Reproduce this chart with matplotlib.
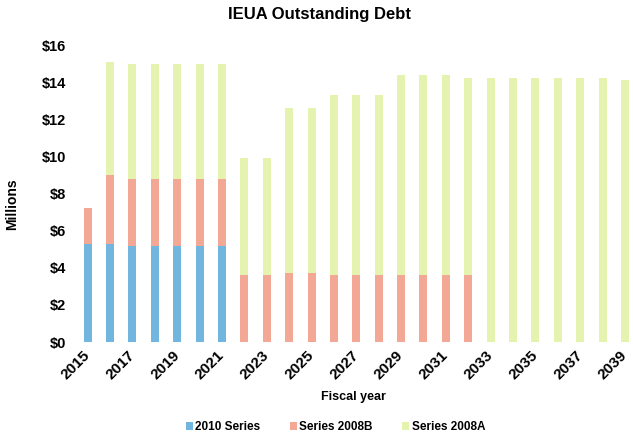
import numpy as np
import matplotlib.pyplot as plt

plt.rcParams['font.family'] = ['Liberation Sans', 'DejaVu Sans']

# datos (millones de $)
years = list(range(2015, 2040))
serie_2010 = [5.3, 5.3, 5.2, 5.2, 5.2, 5.2, 5.2] + [0] * 18
serie_2008b = [1.9, 3.7, 3.6, 3.6, 3.6, 3.6, 3.6,
               3.6, 3.6, 3.7, 3.7, 3.6, 3.6, 3.6, 3.6, 3.6, 3.6, 3.6,
               0, 0, 0, 0, 0, 0, 0]
serie_2008a = [0, 6.1, 6.2, 6.2, 6.2, 6.2, 6.2,
               6.3, 6.3, 8.9, 8.9, 9.7, 9.7, 9.7, 10.8, 10.8, 10.8, 10.6,
               14.2, 14.2, 14.2, 14.2, 14.2, 14.2, 14.1]

c_2010 = '#72b6e0'
c_2008b = '#f3a896'
c_2008a = '#e5f3b0'

fig = plt.figure(figsize=(6.33, 4.33), dpi=100)
ax = fig.add_axes([0.118, 0.21, 0.882, 0.686])

x = np.arange(len(years))
b1 = np.array(serie_2010)
b2 = np.array(serie_2008b)
b3 = np.array(serie_2008a)
w = 0.36
ax.bar(x, b1, w, color=c_2010, label='2010 Series')
ax.bar(x, b2, w, bottom=b1, color=c_2008b, label='Series 2008B')
ax.bar(x, b3, w, bottom=b1 + b2, color=c_2008a, label='Series 2008A')

ax.set_xlim(-0.58, 24.36)
ax.set_ylim(0, 16)
ax.set_yticks(range(0, 17, 2))
ax.set_yticklabels([f'${v}' for v in range(0, 17, 2)], fontsize=10.5, fontweight='bold')
ax.set_xticks(x[::2])
ax.set_xticklabels([str(y) for y in years[::2]], rotation=45, ha='right', va='center',
                   rotation_mode='anchor', fontsize=11, fontweight='bold')
ax.tick_params(axis='x', length=0, pad=8)
ax.tick_params(axis='y', length=0, pad=6)
for s in ax.spines.values():
    s.set_visible(False)

ax.set_xlabel('Fiscal year', fontsize=9, fontweight='bold', labelpad=6)
ax.set_ylabel('Millions', fontsize=10, fontweight='bold')
ax.yaxis.set_label_coords(-0.099, 0.465)
fig.text(0.505, 0.967, 'IEUA Outstanding Debt', ha='center', va='center',
         fontsize=12, fontweight='bold')

leg = fig.legend(loc='lower center', bbox_to_anchor=(0.53, -0.025), ncol=3,
                 frameon=False, fontsize=8.5, handlelength=0.6, handleheight=0.6,
                 handletextpad=0.2, columnspacing=2.5)
for t in leg.get_texts():
    t.set_fontweight('bold')

fig.savefig('out.png', dpi=100)
